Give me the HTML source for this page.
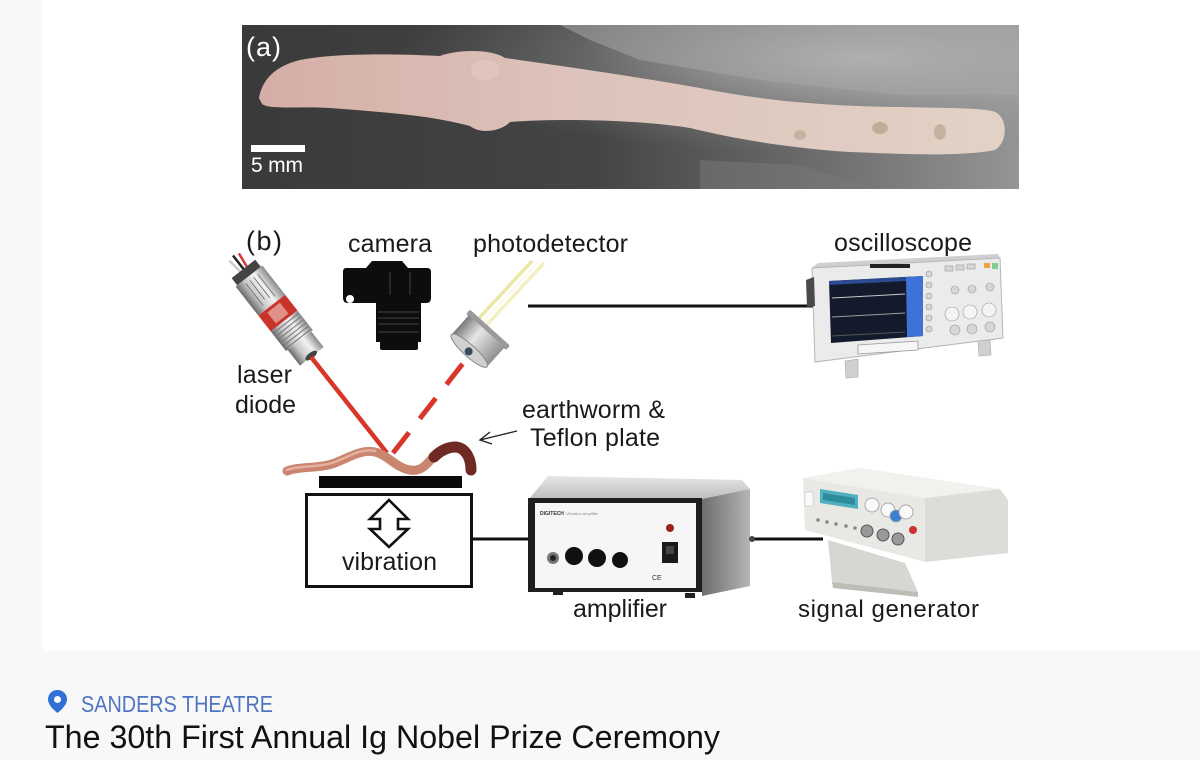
<!DOCTYPE html>
<html><head><meta charset="utf-8"><style>
html,body{margin:0;padding:0;background:#f8f8f8;}
svg{display:block;}
text{font-family:"Liberation Sans",Arial,sans-serif;}
</style></head><body>
<svg width="1200" height="760" viewBox="0 0 1200 760" xmlns="http://www.w3.org/2000/svg">
<defs>
<linearGradient id="bgph" x1="0" y1="0" x2="1" y2="0">
<stop offset="0" stop-color="#3a3a3a"/><stop offset="0.45" stop-color="#444444"/><stop offset="0.7" stop-color="#666666"/><stop offset="1" stop-color="#959595"/>
</linearGradient>
<radialGradient id="lite" cx="0.8" cy="0.2" r="0.6">
<stop offset="0" stop-color="#c4c4c4" stop-opacity="0.9"/><stop offset="1" stop-color="#8a8a8a" stop-opacity="0"/>
</radialGradient>
<linearGradient id="wormA" x1="0" y1="0" x2="1" y2="0">
<stop offset="0" stop-color="#d4aea6"/><stop offset="0.4" stop-color="#dcc2ba"/><stop offset="1" stop-color="#e2d2c6"/>
</linearGradient>
<linearGradient id="silver" x1="0" y1="0" x2="0" y2="1">
<stop offset="0" stop-color="#8a8a8a"/><stop offset="0.35" stop-color="#f2f2f2"/><stop offset="0.7" stop-color="#c8c8c8"/><stop offset="1" stop-color="#6a6a6a"/>
</linearGradient>
<linearGradient id="can" x1="0" y1="0" x2="1" y2="0">
<stop offset="0" stop-color="#7a7a7a"/><stop offset="0.4" stop-color="#e6e6e6"/><stop offset="1" stop-color="#8f8f8f"/>
</linearGradient>
<linearGradient id="ampTop" x1="0" y1="0" x2="0" y2="1">
<stop offset="0" stop-color="#e6e6e6"/><stop offset="1" stop-color="#bdbdbd"/>
</linearGradient>
<linearGradient id="ampSide" x1="0" y1="0" x2="1" y2="0">
<stop offset="0" stop-color="#6e6e6e"/><stop offset="1" stop-color="#b5b5b5"/>
</linearGradient>
</defs>

<rect x="0" y="0" width="1200" height="760" fill="#f8f8f8"/>
<rect x="42" y="0" width="1158" height="651" fill="#ffffff"/>

<!-- Photo (a) -->
<rect x="242" y="25" width="777" height="164" fill="url(#bgph)"/>
<rect x="242" y="25" width="777" height="164" fill="url(#lite)"/>
<path d="M560,25 L1019,25 L1019,95 L900,95 L760,80 L640,60 L590,40 Z" fill="#a6a6a6" opacity="0.55"/>
<path d="M700,160 L800,165 L880,189 L700,189 Z" fill="#7a7a7a" opacity="0.5"/>
<path d="M259,98 C262,80 275,66 300,60 C330,54 380,53 440,56 C455,50 490,48 505,58 C560,66 620,74 700,88 C760,100 820,106 900,107 C950,108 985,108 995,112 C1008,118 1008,142 995,150 C960,157 900,154 850,152 C790,148 740,140 690,128 C640,120 560,118 510,122 C500,132 480,134 470,126 C430,115 380,112 330,108 C300,106 270,110 262,104 Z" fill="url(#wormA)"/>
<ellipse cx="485" cy="70" rx="14" ry="10" fill="#e4c8c0" opacity="0.7"/>
<ellipse cx="880" cy="128" rx="8" ry="6" fill="#a48c6e" opacity="0.5"/>
<ellipse cx="940" cy="132" rx="6" ry="8" fill="#a48c6e" opacity="0.45"/>
<ellipse cx="800" cy="135" rx="6" ry="5" fill="#a48c6e" opacity="0.4"/>
<text x="246" y="56" font-size="27" fill="#ffffff" textLength="35">(a)</text>
<rect x="251" y="145" width="54" height="7" fill="#ffffff"/>
<text x="251" y="172" font-size="21" fill="#ffffff" textLength="52">5 mm</text>

<!-- Camera -->
<g fill="#0d0d0d">
<path d="M346,268 L366,268 L372,261 L402,261 L408,268 L427,268 Q431,268 431,272 L431,298 Q431,303 426,303 L348,303 Q343,303 343,298 L343,272 Q343,268 346,268 Z"/>
<rect x="376" y="296" width="45" height="46"/>
<rect x="380" y="338" width="38" height="12" rx="2"/>
</g>
<circle cx="350" cy="299" r="4" fill="#fff"/>
<g stroke="#3a3a3a" stroke-width="1.2">
<line x1="378" y1="312" x2="419" y2="312"/><line x1="378" y1="318" x2="419" y2="318"/><line x1="378" y1="324" x2="419" y2="324"/><line x1="378" y1="332" x2="419" y2="332"/>
<line x1="390" y1="272" x2="390" y2="295"/><line x1="410" y1="272" x2="410" y2="295"/>
</g>

<!-- Laser diode -->
<g transform="translate(281,317) rotate(52)">
<line x1="-60" y1="-4" x2="-76" y2="-6" stroke="#d33" stroke-width="2.5"/>
<line x1="-60" y1="0" x2="-78" y2="0" stroke="#222" stroke-width="2.5"/>
<line x1="-60" y1="4" x2="-76" y2="6" stroke="#ccc" stroke-width="2.5"/>
<rect x="-61" y="-15" width="9" height="30" fill="#444"/>
<rect x="-52" y="-17" width="37" height="34" fill="url(#silver)"/>
<g stroke="#666" stroke-width="0.8"><line x1="-48" y1="-8" x2="-20" y2="-8"/><line x1="-48" y1="-3" x2="-22" y2="-3"/><line x1="-48" y1="2" x2="-24" y2="2"/><line x1="-48" y1="7" x2="-20" y2="7"/></g>
<rect x="-15" y="-17" width="20" height="34" fill="#c8342a"/>
<rect x="-12" y="-8" width="14" height="16" fill="#f0d0c8" opacity="0.6"/>
<rect x="5" y="-17" width="25" height="34" fill="url(#silver)"/>
<g stroke="#777" stroke-width="1"><line x1="8" y1="-16" x2="8" y2="16"/><line x1="12" y1="-16" x2="12" y2="16"/><line x1="16" y1="-16" x2="16" y2="16"/><line x1="20" y1="-16" x2="20" y2="16"/><line x1="24" y1="-16" x2="24" y2="16"/><line x1="28" y1="-16" x2="28" y2="16"/></g>
<rect x="30" y="-15" width="20" height="30" fill="url(#silver)"/>
<ellipse cx="49" cy="0" rx="3" ry="7" fill="#444"/>
</g>

<!-- Photodetector -->
<line x1="471" y1="327" x2="532" y2="261" stroke="#ece7a6" stroke-width="3.5"/>
<line x1="483" y1="329" x2="544" y2="263" stroke="#f4f0c4" stroke-width="3.5"/>
<line x1="477" y1="328" x2="538" y2="262" stroke="#faf8e0" stroke-width="1.5"/>
<g transform="translate(478,341) rotate(42)">
<rect x="-27" y="-18" width="54" height="6" rx="2" fill="#9a9a9a"/>
<rect x="-24" y="-13" width="48" height="26" fill="url(#can)"/>
<ellipse cx="0" cy="13" rx="24" ry="6" fill="#d0d0d0" stroke="#888" stroke-width="1"/>
<circle cx="0" cy="14" r="4" fill="#3a4a5a"/>
</g>

<!-- Beams -->
<line x1="311" y1="357" x2="387" y2="453" stroke="#d8352b" stroke-width="4.5"/>
<line x1="393" y1="453" x2="464" y2="362" stroke="#d8352b" stroke-width="5" stroke-dasharray="26 17.5"/>

<!-- Worm (b) -->
<path d="M287,471 C300,466 318,469 335,463 C350,457 362,449 375,452 C388,455 396,468 410,470 C424,472 428,461 436,455" fill="none" stroke="#c9856e" stroke-width="9" stroke-linecap="round"/>
<path d="M287,470 C300,465 318,468 335,462 C350,456 362,448 375,451" fill="none" stroke="#e6b0a0" stroke-width="2.5" stroke-linecap="round"/>
<path d="M434,457 C442,449 454,444 462,449 C469,454 471,463 471,470" fill="none" stroke="#6f2a24" stroke-width="11" stroke-linecap="round"/>

<!-- Arrow to earthworm -->
<line x1="517" y1="431" x2="480" y2="440" stroke="#222" stroke-width="1.4"/>
<polyline points="490,432 480,440 492,444" fill="none" stroke="#222" stroke-width="1.4"/>

<!-- Teflon plate -->
<rect x="319" y="476" width="143" height="12" fill="#0a0a0a"/>

<!-- Vibration box -->
<rect x="306.5" y="494.5" width="165" height="92" fill="#fff" stroke="#111" stroke-width="3"/>
<polygon points="389,500 408,519 398,519 398,529 408,529 389,547 370,529 380,529 380,519 370,519" fill="#fff" stroke="#111" stroke-width="2.6" stroke-linejoin="miter"/>

<!-- connecting lines -->
<line x1="528" y1="306" x2="815" y2="306" stroke="#111" stroke-width="3"/>
<line x1="472" y1="539" x2="528" y2="539" stroke="#111" stroke-width="3"/>
<line x1="750" y1="539" x2="823" y2="539" stroke="#111" stroke-width="3"/>

<!-- Amplifier -->
<polygon points="529,499 548,476 742,480 750,489 702,499" fill="url(#ampTop)"/>
<polygon points="702,499 750,489 750,586 702,596" fill="url(#ampSide)"/>
<rect x="528" y="498" width="174" height="94" fill="#1e1e1e"/>
<rect x="535" y="503" width="161" height="85" fill="#f6f6f6"/>
<text x="540" y="515" font-size="5" fill="#333" font-weight="bold">DIGITECH</text>
<text x="566" y="515" font-size="4" fill="#888">Vibration Amplifier</text>
<circle cx="553" cy="558" r="6" fill="#777"/><circle cx="553" cy="558" r="3" fill="#222"/>
<circle cx="574" cy="556" r="9" fill="#111"/>
<circle cx="597" cy="558" r="9" fill="#111"/>
<circle cx="620" cy="560" r="8" fill="#111"/>
<circle cx="670" cy="528" r="4" fill="#a02020"/>
<rect x="662" y="542" width="16" height="21" fill="#1a1a1a"/>
<rect x="666" y="546" width="8" height="8" fill="#444"/>
<text x="652" y="580" font-size="7" fill="#333">CE</text>
<rect x="553" y="590" width="10" height="5" fill="#222"/>
<rect x="685" y="593" width="10" height="5" fill="#222"/>
<circle cx="752" cy="539" r="3" fill="#444"/>

<!-- Signal generator -->
<polygon points="828,540 905,563 918,592 832,582" fill="#d7d7d2"/>
<polygon points="832,582 918,592 918,597 833,588" fill="#bdbdb8"/>
<polygon points="803,478 860,468 1000,489 925,498" fill="#f1f1ee"/>
<polygon points="925,498 1000,489 1008,500 1008,553 925,562" fill="#dcdcd8"/>
<polygon points="803,478 925,498 925,562 805,530" fill="#e8e8e4"/>
<polygon points="820,489 858,495 858,509 820,503" fill="#4eb0c0"/>
<polygon points="823,493 855,498 855,505 823,500" fill="#2d8b9b"/>
<rect x="805" y="492" width="8" height="14" fill="#fafafa" stroke="#bbb" stroke-width="0.5"/>
<circle cx="872" cy="505" r="7" fill="#fafafa" stroke="#aaa"/>
<circle cx="888" cy="510" r="7" fill="#fafafa" stroke="#aaa"/>
<circle cx="896" cy="516" r="6" fill="#3a7fd0" stroke="#aaa"/>
<circle cx="906" cy="512" r="7" fill="#fafafa" stroke="#aaa"/>
<circle cx="867" cy="531" r="6" fill="#999" stroke="#555"/>
<circle cx="883" cy="535" r="6" fill="#999" stroke="#555"/>
<circle cx="898" cy="539" r="6" fill="#999" stroke="#555"/>
<circle cx="913" cy="530" r="4" fill="#d03030"/>
<g fill="#888"><circle cx="818" cy="520" r="1.8"/><circle cx="827" cy="522" r="1.8"/><circle cx="836" cy="524" r="1.8"/><circle cx="846" cy="526" r="1.8"/><circle cx="855" cy="528" r="1.8"/></g>

<!-- Oscilloscope -->
<polygon points="818,263 998,254 1000,258 812,268" fill="#cfcfcf"/>
<polygon points="812,268 1000,258 1003,338 815,362" fill="#ebebeb" stroke="#b5b5b5" stroke-width="1"/>
<polygon points="806,280 814,277 815,306 807,307" fill="#4a4a4a"/>
<polygon points="829,281 923,276 923,336 831,343" fill="#121a2c"/>
<polygon points="906,277 923,276 923,336 907,337" fill="#3d72d6"/>
<polygon points="829,281 906,277 906,281 829,285" fill="#2c4a90"/>
<line x1="832" y1="298" x2="905" y2="294" stroke="#c8c8c8" stroke-width="1"/>
<line x1="832" y1="317" x2="905" y2="313" stroke="#a0a0a0" stroke-width="1"/>
<line x1="832" y1="336" x2="905" y2="332" stroke="#555" stroke-width="1"/>
<rect x="870" y="264" width="40" height="4" fill="#222"/>
<polygon points="858,345 918,341 918,350 858,354" fill="#f6f6f6" stroke="#999" stroke-width="0.8"/>
<g fill="#d6d6d6" stroke="#999" stroke-width="0.6">
<circle cx="929" cy="274" r="3"/><circle cx="929" cy="285" r="3"/><circle cx="929" cy="296" r="3"/><circle cx="929" cy="307" r="3"/><circle cx="929" cy="318" r="3"/><circle cx="929" cy="329" r="3"/>
<circle cx="955" cy="290" r="4"/><circle cx="972" cy="289" r="4"/><circle cx="990" cy="287" r="4"/>
<circle cx="952" cy="314" r="7" fill="#f4f4f4"/><circle cx="970" cy="312" r="7" fill="#f4f4f4"/><circle cx="989" cy="310" r="7" fill="#f4f4f4"/>
<circle cx="955" cy="330" r="5"/><circle cx="972" cy="329" r="5"/><circle cx="990" cy="327" r="5"/>
<rect x="945" y="266" width="8" height="5"/><rect x="956" y="265" width="8" height="5"/><rect x="967" y="264" width="8" height="5"/>
</g>
<rect x="984" y="263" width="6" height="5" fill="#f0a040"/>
<rect x="992" y="263" width="6" height="6" fill="#80d090"/>
<polygon points="845,361 858,359 858,377 846,378" fill="#cfcfcf" stroke="#aaa" stroke-width="0.6"/>
<polygon points="978,341 990,340 991,355 979,356" fill="#cfcfcf" stroke="#aaa" stroke-width="0.6"/>

<!-- Labels (b) — drawn last so they sit above shapes -->
<g fill="#1a1a1a" font-size="25">
<text x="246" y="250" font-size="27" textLength="36">(b)</text>
<text x="348" y="252" textLength="84">camera</text>
<text x="473" y="252" textLength="155">photodetector</text>
<text x="834" y="251" textLength="138">oscilloscope</text>
<text x="237" y="383" textLength="55">laser</text>
<text x="235" y="413" textLength="61">diode</text>
<text x="522" y="418" textLength="143">earthworm &amp;</text>
<text x="530" y="446" textLength="130">Teflon plate</text>
<text x="342" y="570" textLength="95">vibration</text>
<text x="573" y="617" textLength="94">amplifier</text>
<text x="798" y="617" font-size="24" textLength="181">signal generator</text>
</g>

<!-- Footer -->
<path d="M57.5,690 C52,690 48,694 48,699.5 C48,706 57.5,713 57.5,713 C57.5,713 67,706 67,699.5 C67,694 63,690 57.5,690 Z" fill="#2f6fd6"/>
<circle cx="57.5" cy="699.5" r="3.5" fill="#ffffff"/>
<text x="81" y="712" font-size="23" fill="#4f74c2" textLength="192" lengthAdjust="spacingAndGlyphs">SANDERS THEATRE</text>
<text x="45" y="748" font-size="32" fill="#111111" textLength="675" lengthAdjust="spacingAndGlyphs">The 30th First Annual Ig Nobel Prize Ceremony</text>
</svg>
</body></html>
